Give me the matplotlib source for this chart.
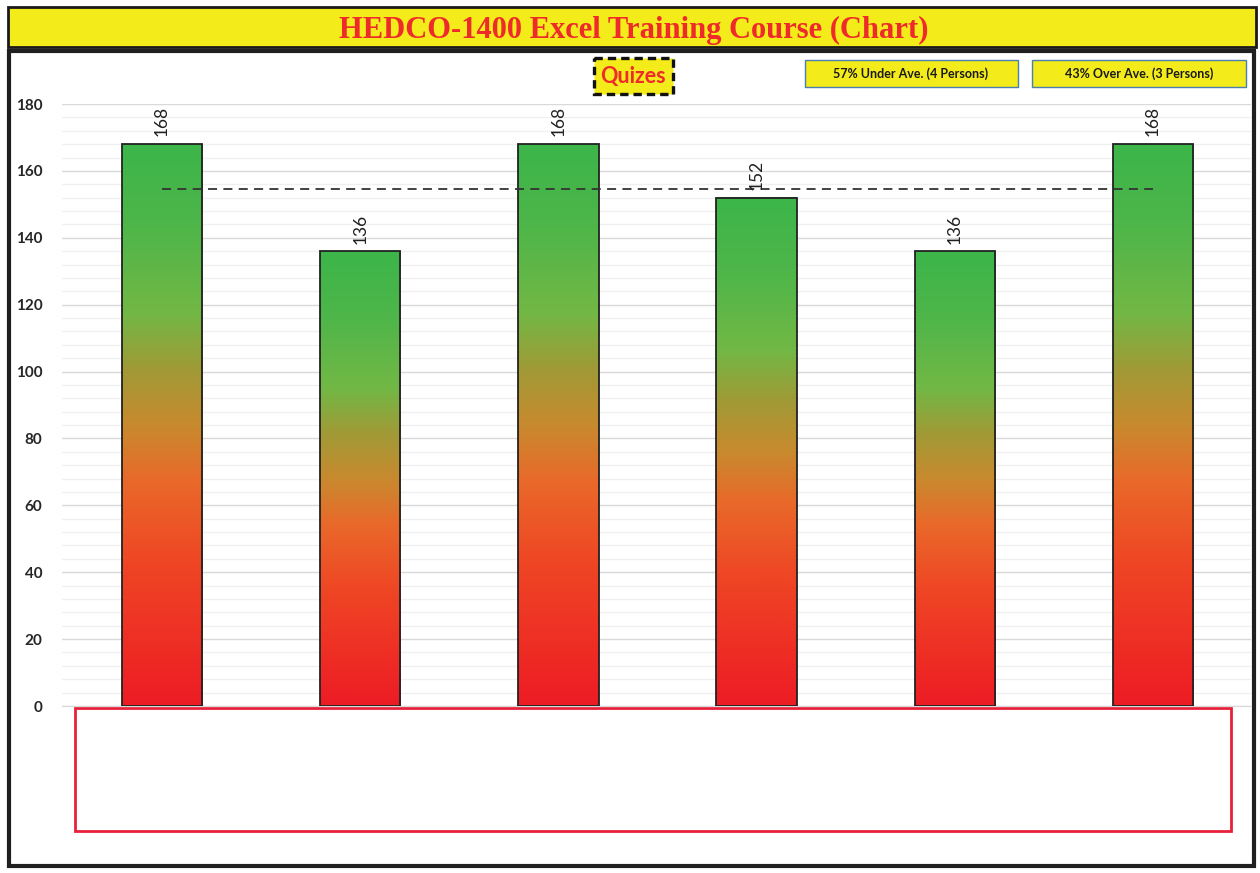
import matplotlib
matplotlib.use("Agg")
import matplotlib.pyplot as plt
import numpy as np
from matplotlib.colors import LinearSegmentedColormap
from matplotlib.patches import Rectangle

# chart data
students = ["1", "2", "3", "4", "5", "6"]
scores = [168, 136, 168, 152, 136, 168]
y_ticks = [0, 20, 40, 60, 80, 100, 120, 140, 160, 180]
title = "HEDCO-1400 Excel Training Course (Chart)"
chart_name = "Quizes"
under_text = "57% Under Ave. (4 Persons)"
over_text = "43% Over Ave. (3 Persons)"

W, H = 1260, 873
fig = plt.figure(figsize=(W / 100, H / 100), dpi=100)
plt.rcParams['font.family'] = ['Lato', 'DejaVu Sans']

# overlay axes in pixel coordinates for frames and boxes
bg = fig.add_axes([0, 0, 1, 1])
bg.set_xlim(0, W)
bg.set_ylim(H, 0)
bg.axis("off")

# title bar
bg.add_patch(Rectangle((8, 7), 1248, 40, facecolor="#f3eb1a",
                       edgecolor="#1a1a1a", lw=2))
bg.text(634, 30, title, ha="center", va="center", color="#ee2a2a",
        fontsize=22, fontweight="bold", family="Liberation Serif")

# chart frame
bg.add_patch(Rectangle((9, 51), 1245, 815, facecolor="white",
                       edgecolor="#1f1f1f", lw=3))

# red box under axis
bg.add_patch(Rectangle((75, 708), 1156, 123, facecolor="white",
                       edgecolor="#e8203a", lw=2, zorder=5))

# chart name box
bg.add_patch(Rectangle((594, 58), 79, 36, facecolor="#f3eb1a",
                       edgecolor="#111111", lw=2.4, linestyle=(0, (2.5, 1.5))))
bg.text(633, 77, chart_name, ha="center", va="center", color="#ee2a2a",
        fontsize=15.5, fontweight="bold")

# under / over boxes
bg.add_patch(Rectangle((805, 60), 213, 27, facecolor="#f3eb1a",
                       edgecolor="#4a7fb0", lw=1))
bg.text(911, 74, under_text, ha="center", va="center", color="#1a1a1a",
        fontsize=9, fontweight="bold")
bg.add_patch(Rectangle((1032, 60), 214, 27, facecolor="#f3eb1a",
                       edgecolor="#4a7fb0", lw=1))
bg.text(1139, 74, over_text, ha="center", va="center", color="#1a1a1a",
        fontsize=9, fontweight="bold")

# main axes
ax = fig.add_axes([62 / W, 1 - 706 / H, (1251 - 62) / W, (706 - 104) / H])
ax.patch.set_alpha(0)

cmap = LinearSegmentedColormap.from_list("rg", [
    (0.0, "#ed1c24"), (0.25, "#ef4524"), (0.4, "#e9692a"),
    (0.5, "#c88a2e"), (0.6, "#a09a36"), (0.7, "#72b845"),
    (0.85, "#4fb649"), (1.0, "#3cb54a")])
grad = np.linspace(0, 1, 256).reshape(-1, 1)

x = np.arange(len(scores))
bw = 0.405
for xi, v in zip(x, scores):
    ax.imshow(grad, cmap=cmap, aspect="auto", origin="lower",
              extent=(xi - bw / 2, xi + bw / 2, 0, v), zorder=2)
ax.bar(x, scores, width=bw, fill=False, edgecolor="#222222", lw=1.3, zorder=3)

for xi, v in zip(x, scores):
    ax.annotate(str(v), (xi, v), xytext=(0, 5.5), textcoords="offset points",
                rotation=90, ha="center", va="bottom", fontsize=12.5,
                color="#1f1f1f", zorder=4)

avg = np.mean(scores)
ax.plot([x[0], x[-1]], [avg, avg], color="#333333", lw=1.3,
        dashes=(5, 3.5), zorder=3.5)

ax.set_xlim(-0.505, 5.495)
ax.set_ylim(0, 180)
ax.set_yticks(y_ticks)
ax.set_yticks(np.arange(0, 181, 4), minor=True)
ax.set_yticklabels([str(t) for t in y_ticks], fontweight="bold",
                   fontsize=11, color="#262626")
ax.tick_params(axis="y", which="both", length=0, pad=14)
ax.set_xticks([])
ax.grid(axis="y", which="major", color="#d9d9d9", lw=1, zorder=0)
ax.grid(axis="y", which="minor", color="#f0f0f0", lw=1, zorder=0)
ax.set_axisbelow(True)
for s in ["top", "right", "left"]:
    ax.spines[s].set_visible(False)
ax.spines["bottom"].set_color("#d9d9d9")

fig.savefig("out.png", dpi=100)
